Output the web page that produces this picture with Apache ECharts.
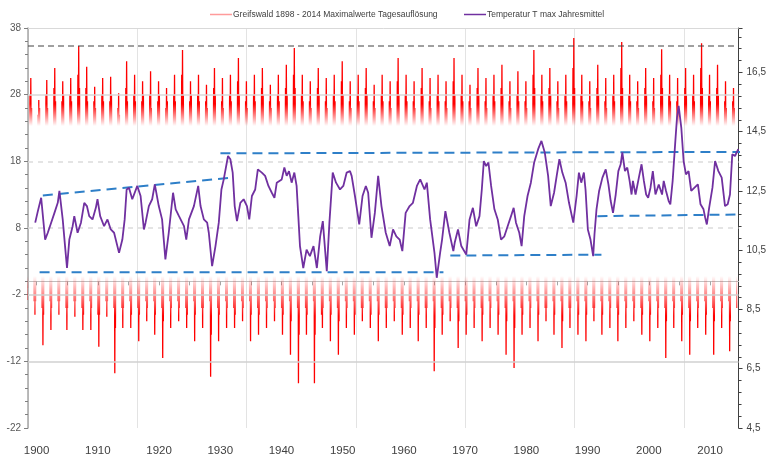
<!DOCTYPE html>
<html>
<head>
<meta charset="utf-8">
<script src="https://cdn.jsdelivr.net/npm/echarts@6/dist/echarts.min.js"></script>
<style>
html, body { margin: 0; padding: 0; background: #ffffff; }
#chart { width: 769px; height: 461px; }
</style>
</head>
<body>
<div id="chart"></div>
<script>
// Axis ticks
const yearTicks = [1900, 1910, 1920, 1930, 1940, 1950, 1960, 1970, 1980, 1990, 2000, 2010];
const yearMinorTicks = [1900, 1905, 1910, 1915, 1920, 1925, 1930, 1935, 1940, 1945, 1950, 1955, 1960, 1965, 1970, 1975, 1980, 1985, 1990, 1995, 2000, 2005, 2010];

// Running annual mean of the daily maximum temperature (right axis, °C)
const meanYears = [1899.78,1900.21,1900.75,1901.40,1901.83,1902.38,1902.92,1903.46,1903.73,1904.27,1904.65,1904.97,1905.35,1905.89,1906.16,1906.70,1907.25,1907.79,1908.22,1908.60,1909.14,1909.68,1909.95,1910.39,1911.03,1911.58,1912.12,1912.66,1913.47,1914.01,1914.39,1914.71,1915.09,1915.63,1916.45,1916.99,1917.53,1917.80,1918.34,1918.88,1919.31,1919.96,1920.50,1921.04,1921.59,1922.29,1922.72,1923.26,1924.08,1924.45,1924.89,1925.70,1926.40,1926.78,1927.32,1927.86,1928.13,1928.67,1929.22,1929.76,1930.19,1930.57,1931.27,1931.65,1932.03,1932.36,1932.73,1933.28,1933.82,1934.36,1934.74,1935.17,1935.71,1936.14,1936.79,1937.33,1937.87,1938.42,1938.85,1939.23,1940.04,1940.47,1940.85,1941.23,1941.66,1942.10,1942.47,1942.75,1943.02,1943.56,1944.10,1944.64,1945.23,1945.78,1946.32,1946.75,1947.40,1947.83,1948.37,1948.91,1949.56,1950.10,1950.65,1951.19,1951.46,1952.00,1952.70,1953.24,1953.78,1954.16,1954.70,1955.25,1955.79,1956.33,1957.03,1957.68,1958.22,1958.76,1959.30,1959.74,1960.28,1960.93,1961.47,1962.12,1962.66,1963.36,1963.74,1964.28,1964.99,1965.36,1965.91,1966.23,1966.77,1967.42,1968.07,1968.29,1968.83,1969.37,1970.18,1970.72,1971.26,1971.80,1972.34,1972.72,1973.05,1973.43,1973.80,1974.24,1974.78,1975.32,1975.86,1976.40,1976.94,1977.49,1977.92,1978.30,1978.84,1979.22,1979.65,1980.19,1980.73,1981.27,1981.92,1982.46,1983.00,1983.55,1983.98,1984.52,1984.95,1985.39,1985.87,1986.41,1986.96,1987.66,1988.20,1988.58,1988.96,1989.39,1989.66,1990.04,1990.47,1990.91,1991.12,1991.45,1991.88,1992.42,1992.96,1993.40,1993.77,1994.15,1994.59,1995.02,1995.40,1995.67,1996.10,1996.48,1996.86,1997.18,1997.40,1997.83,1998.37,1998.81,1999.19,1999.56,1999.89,2000.27,2000.65,2001.08,2001.62,2002.16,2002.43,2002.81,2003.24,2003.51,2003.89,2004.33,2004.60,2004.87,2005.30,2005.68,2006.06,2006.49,2006.92,2007.46,2008.01,2008.44,2008.93,2009.20,2009.47,2009.85,2010.39,2010.82,2011.36,2011.90,2012.44,2012.88,2013.25,2013.63,2014.07,2014.61];
const meanValues = [11.43,11.82,12.27,10.86,11.09,11.43,11.76,12.10,12.50,11.54,10.64,9.90,10.86,11.31,11.65,11.09,11.43,12.10,11.99,11.65,11.54,11.93,12.22,11.65,11.31,11.54,11.20,11.09,10.41,10.86,11.54,12.55,12.61,12.22,12.67,12.33,11.20,11.43,11.99,12.22,12.72,11.99,11.54,10.19,11.09,12.44,11.88,11.65,11.31,10.86,11.54,11.99,12.67,11.99,11.54,11.43,11.09,9.96,10.64,11.43,12.55,12.89,13.68,13.57,13.12,11.99,11.48,12.10,12.22,11.99,11.54,12.33,12.55,13.23,13.12,13.01,12.67,12.44,12.27,12.78,12.89,13.29,13.01,13.17,12.78,13.12,12.67,11.65,10.64,9.90,10.52,10.30,10.64,9.90,10.97,11.48,9.79,11.43,13.12,12.78,12.55,12.67,13.12,13.17,13.01,12.33,11.37,12.33,12.67,12.44,10.92,11.76,13.01,11.99,11.09,10.64,11.20,10.97,10.86,10.47,11.76,11.99,12.10,12.67,12.89,12.55,12.78,11.54,10.41,9.57,10.41,10.86,11.82,11.09,10.47,10.75,11.20,10.64,10.35,11.54,11.93,11.31,11.65,12.55,13.51,13.34,13.46,12.67,11.88,11.54,10.86,10.97,11.31,11.65,11.93,11.43,11.09,10.64,11.65,12.33,12.78,13.46,13.91,14.19,13.80,13.01,11.99,12.44,13.01,13.57,13.12,12.78,12.10,11.43,12.33,13.12,12.78,13.12,12.55,11.20,10.86,10.30,11.03,11.88,12.50,12.95,13.23,12.72,12.16,11.76,12.38,13.17,13.40,13.80,13.17,13.29,12.84,12.38,12.84,12.38,12.95,13.40,12.84,12.38,12.27,12.61,13.17,12.38,12.72,12.38,12.84,12.50,12.16,12.05,12.84,14.19,14.98,15.37,14.64,13.51,13.06,13.17,12.50,12.61,12.72,12.05,11.88,11.60,11.37,11.93,12.61,13.51,13.17,12.95,11.99,12.05,12.38,13.74,13.68,13.91];

// Daily maximum record, one entry per plotted year from 1898:
// summer spikes (°C, in time order) and winter spikes (Jan, Feb, Dec)
const dailyFirstYear = 1898;
const summerPeaks = [
  [28,30.5,26],[25,27.2,26],[28,30.2,26],[29,32.0,27],[27,30,28],[28,30.5,27],[31,35.3,29],[29,32.2,27],[27,29.2,26],[28,30.5,27],
  [27,30.7,28],[26,28.2,25],[29,33,27],[28,31,27],[27,30,28],[28,31.5,26],[27,30,28],[26,29,27],[28,31,27],[31,34.7,28],
  [27,30,28],[28,31,27],[27,29.5,26],[29,32,28],[27,30.5,26],[28,31,27],[30,33.5,28],[27,30,26],[28,31,27],[29,32,28],
  [27,29.5,26],[28,31,27],[29,32.5,28],[31,35,29],[28,31,27],[27,30,26],[29,32,28],[27,30.5,26],[28,31,27],[30,33,28],
  [27,30,26],[28,31,27],[29,32,28],[27,29.5,26],[28,31,27],[27,30,26],[30,33.5,28],[28,31,27],[27,30,26],[29,32,28],
  [27,30.5,26],[28,31,27],[27,30,26],[30,33.5,28],[28,31,27],[27,29.5,26],[29,32,28],[27,30.5,26],[28,31,27],[29,32.5,28],
  [27,30,26],[28,31.5,27],[27,30,26],[31,34.7,29],[28,31,27],[29,32,28],[27,30,26],[28,31,27],[32,36.5,29],[28,31,27],
  [27,30,26],[29,32.5,28],[27,30.5,26],[28,31,27],[32,35.9,29],[28,31,27],[27,30,26],[29,32,28],[27,30.5,26],[31,34.8,29],
  [28,31,27],[27,30.5,26],[29,32,28],[28,31,27],[32,35.7,29],[28,31,27],[29,32.5,28],[27,30,26],[27,29,26]
];
const winterLows = [
  [-2.8,-1,-3],[-5,-3,-4],[-9.6,-5,-3],[-7.3,-4,-3],[-5,-3,-4],[-7.3,-4,-3],[-5.3,-3,-4],[-7.3,-5,-3],[-7.3,-4,-5],[-9.8,-5,-3],
  [-5.3,-3,-4],[-13.8,-7,-4],[-7,-4,-3],[-7,-5,-4],[-9,-5,-3],[-6,-4,-3],[-8,-5,-4],[-11.5,-6,-3],[-7,-4,-3],[-6,-4,-4],
  [-7,-5,-3],[-9,-5,-4],[-7,-4,-3],[-14.3,-8,-4],[-9,-5,-3],[-7,-4,-4],[-7,-5,-3],[-6,-4,-3],[-9,-5,-4],[-8,-5,-3],
  [-7,-4,-3],[-6,-4,-4],[-8,-5,-3],[-11,-6,-4],[-15.3,-8,-4],[-8,-5,-3],[-15.3,-8,-5],[-7,-4,-3],[-9,-5,-4],[-11,-6,-3],
  [-7,-4,-3],[-8,-5,-4],[-6,-4,-3],[-7,-5,-3],[-9,-5,-4],[-7,-4,-3],[-6,-4,-4],[-8,-5,-3],[-7,-4,-3],[-9,-5,-4],
  [-7,-4,-3],[-13.5,-7,-4],[-8,-5,-3],[-6,-4,-4],[-10,-6,-3],[-8,-5,-3],[-7,-4,-4],[-9,-5,-3],[-7,-4,-3],[-8,-5,-4],
  [-11,-6,-3],[-13,-7,-4],[-8,-5,-3],[-7,-4,-3],[-9,-5,-4],[-6,-4,-3],[-8,-5,-3],[-10,-6,-4],[-7,-4,-3],[-8,-5,-3],
  [-9,-5,-4],[-6,-4,-3],[-8,-5,-3],[-7,-4,-4],[-9,-5,-3],[-7,-4,-3],[-6,-4,-4],[-8,-5,-3],[-9,-5,-3],[-7,-4,-4],
  [-11.5,-6,-3],[-7,-4,-3],[-9,-5,-4],[-11,-6,-3],[-7,-4,-3],[-8,-5,-4],[-11,-6,-3],[-7,-4,-3],[-10.5,-6,-4]
];

// Hand-drawn guide lines: [[year, °C], [year, °C]] on the right axis
const guideRise = [[1901.02, 12.35], [1931.92, 12.95]];
const guideHigh = [[1930.03, 13.77], [2016.61, 13.82]];
const guideLowEarly = [[1900.49, 9.76], [1966.45, 9.76]];
const guideLowMid = [[1967.58, 10.32], [1992.26, 10.35]];
const guideLowLate = [[1991.61, 11.65], [2016.12, 11.71]];
// Record daily maximum (left axis)
const recordMax = 35.3;

// The daily record runs on its own hidden time axis (in years)
const dailyAxisStart = 1898.19;
const dailyAxisEnd = 1987.17;
const dailyGridStep = 13.69;

// Build the daily path: per year, winter cold spells, spring rise,
// the summer spikes and the autumn fall-off.
const dailySeries = [];
summerPeaks.forEach((h, i) => {
  const y = dailyFirstYear + i;
  const c = winterLows[i];
  dailySeries.push(
    [y + 0.02, 4], [y + 0.06, c[0]], [y + 0.10, 3], [y + 0.14, c[1]],
    [y + 0.20, 8], [y + 0.38, 19], [y + 0.44, h[0]], [y + 0.49, 21],
    [y + 0.54, h[1]], [y + 0.59, 21], [y + 0.64, h[2]], [y + 0.72, 16],
    [y + 0.90, 5], [y + 0.95, c[2]]
  );
});

const chart = echarts.init(document.getElementById('chart'), null, { renderer: 'canvas' });
const labelFont = "'Liberation Sans', Arial, sans-serif";

const guideStyle = { color: '#2e7fc8', width: 2, type: [10, 6] };
function guide(name, pts) {
  return {
    name, type: 'line', xAxisIndex: 0, yAxisIndex: 1, data: pts,
    showSymbol: false, symbol: 'none', silent: true, clip: false,
    lineStyle: guideStyle, z: 4
  };
}

const legendText = { fontFamily: labelFont, fontSize: 8.5, color: '#404040', padding: [0, 0, 0, -4] };

chart.setOption({
  animation: false,
  backgroundColor: '#ffffff',
  legend: [
    {
      top: 5, left: 205, itemWidth: 22, itemHeight: 1.5, icon: 'rect', textStyle: legendText,
      data: [{ name: 'Greifswald 1898 - 2014 Maximalwerte Tagesauflösung', itemStyle: { color: '#ff9b9b' } }]
    },
    {
      top: 5, left: 459, itemWidth: 22, itemHeight: 1.5, icon: 'rect', textStyle: legendText,
      data: [{ name: 'Temperatur T max Jahresmittel', itemStyle: { color: '#7030a0' } }]
    }
  ],
  grid: { left: 28, right: 26, top: 28, bottom: 33, containLabel: false },
  xAxis: [
    {
      type: 'value', min: 1898.6, max: 2014.65, position: 'bottom', offset: 3,
      axisLine: { show: true, lineStyle: { color: '#bfbfbf', width: 1 } },
      axisTick: { show: true, length: 4, customValues: yearMinorTicks, lineStyle: { color: '#a6a6a6' } },
      axisLabel: {
        customValues: yearTicks, margin: 14, color: '#404040', fontSize: 11.5, fontFamily: labelFont,
        formatter: (v) => String(v)
      },
      splitLine: { show: false }
    },
    {
      type: 'value', min: dailyAxisStart, max: dailyAxisEnd, interval: dailyGridStep, position: 'top',
      axisLine: { show: false }, axisTick: { show: false }, axisLabel: { show: false },
      splitLine: { show: true, lineStyle: { color: '#e3e3e3', width: 1 } }
    }
  ],
  yAxis: [
    {
      type: 'value', min: -22, max: 38, interval: 10, position: 'left',
      axisLine: { show: true, lineStyle: { color: '#a6a6a6', width: 1.5 } },
      axisTick: { show: true, length: 4, lineStyle: { color: '#7f7f7f' } },
      minorTick: { show: true, splitNumber: 5, length: 3, lineStyle: { color: '#7f7f7f' } },
      axisLabel: { color: '#595959', fontSize: 10, fontFamily: labelFont, margin: 7 },
      splitLine: { show: false }
    },
    {
      type: 'value', min: 4.5, max: 18, interval: 2, position: 'right',
      axisLine: { show: true, lineStyle: { color: '#404040', width: 1 } },
      axisTick: { show: true, length: 4, lineStyle: { color: '#404040' } },
      minorTick: { show: true, splitNumber: 5, length: 3, lineStyle: { color: '#404040' } },
      axisLabel: {
        color: '#404040', fontSize: 10, fontFamily: labelFont, margin: 8,
        formatter: (v) => (v > 17 ? '' : v.toFixed(1).replace('.', ','))
      },
      splitLine: { show: false }
    }
  ],
  series: [
    {
      name: 'grid lines', type: 'line', xAxisIndex: 0, yAxisIndex: 0, data: [], silent: true,
      markLine: {
        silent: true, symbol: 'none', label: { show: false },
        data: [
          { yAxis: 38, lineStyle: { color: '#d9d9d9', width: 1, type: 'solid' } },
          { yAxis: 28, lineStyle: { color: '#d9d9d9', width: 1.5, type: 'solid' } },
          { yAxis: 18, lineStyle: { color: '#dcdcdc', width: 1.5, type: [5, 5] } },
          { yAxis: 8, lineStyle: { color: '#dcdcdc', width: 1.5, type: [5, 5] } },
          { yAxis: -2, lineStyle: { color: '#d0d0d0', width: 1.5, type: 'solid' } },
          { yAxis: -12, lineStyle: { color: '#d0d0d0', width: 1.5, type: 'solid' } }
        ]
      }
    },
    {
      name: 'Greifswald 1898 - 2014 Maximalwerte Tagesauflösung',
      type: 'line', xAxisIndex: 1, yAxisIndex: 0, data: dailySeries,
      showSymbol: false, symbol: 'none', silent: true, z: 2,
      itemStyle: { color: '#ff9b9b' },
      lineStyle: {
        width: 1.3,
        color: new echarts.graphic.LinearGradient(0, 28, 0, 428, [
          { offset: 0, color: 'rgba(255,0,0,1)' },
          { offset: 0.19, color: 'rgba(255,0,0,1)' },
          { offset: 0.245, color: 'rgba(255,0,0,0)' },
          { offset: 0.62, color: 'rgba(255,0,0,0)' },
          { offset: 0.72, color: 'rgba(255,0,0,1)' },
          { offset: 1, color: 'rgba(255,0,0,1)' }
        ], true)
      }
    },
    {
      name: 'record', type: 'line', xAxisIndex: 0, yAxisIndex: 0, silent: true,
      data: [[1898.6, recordMax], [2014.65, recordMax]], showSymbol: false, symbol: 'none',
      lineStyle: { color: '#404040', width: 1, type: [6, 4] }, z: 3
    },
    {
      name: 'Temperatur T max Jahresmittel', type: 'line', xAxisIndex: 0, yAxisIndex: 1,
      data: meanYears.map((y, i) => [y, meanValues[i]]),
      showSymbol: false, symbol: 'none', silent: true, z: 5,
      itemStyle: { color: '#7030a0' },
      lineStyle: { color: '#7030a0', width: 1.8 }
    },
    guide('guide rise', guideRise),
    guide('guide high', guideHigh),
    guide('guide low early', guideLowEarly),
    guide('guide low mid', guideLowMid),
    guide('guide low late', guideLowLate)
  ]
});
</script>
</body>
</html>
